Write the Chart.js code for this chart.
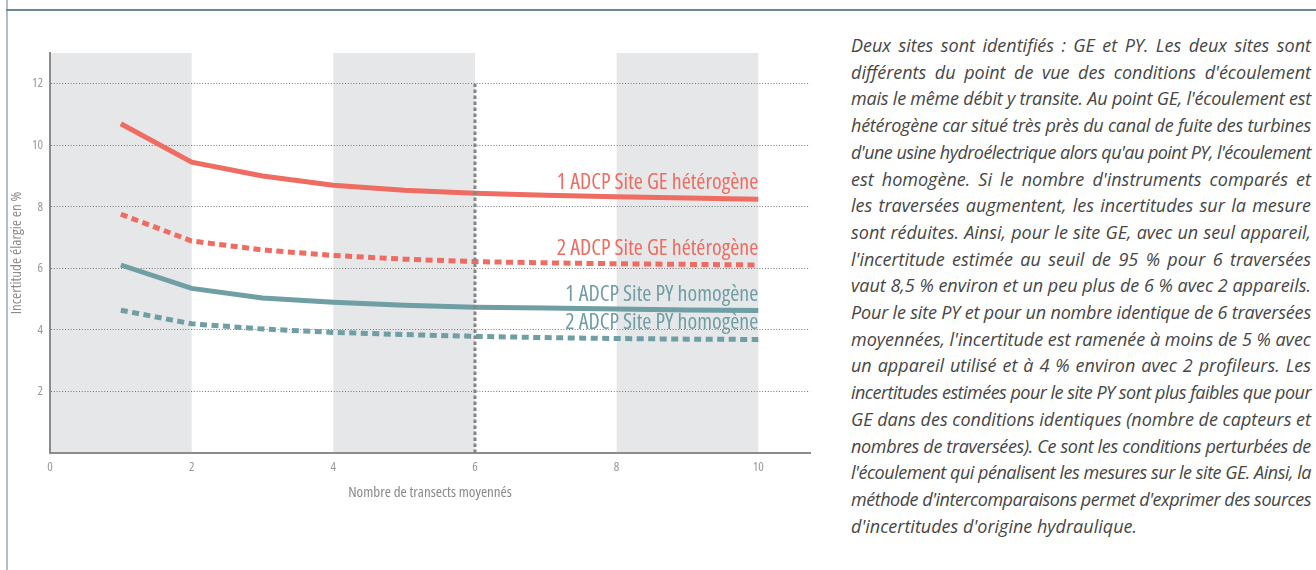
<!DOCTYPE html>
<html><head><meta charset="utf-8">
<script src="https://cdn.jsdelivr.net/npm/chart.js@4.4.1/dist/chart.umd.min.js"></script>
<style>
html,body{margin:0;padding:0;background:#fff;width:1316px;height:570px;overflow:hidden;position:relative;}
#frameV{position:absolute;left:6px;top:0;width:2px;height:570px;background:#aebfca;}
#frameH{position:absolute;left:6px;top:9px;width:1310px;height:2px;background:#6b8a98;}
#wrap{position:absolute;left:0;top:0;width:830px;height:570px;}
#txt{position:absolute;left:851px;top:0;width:460px;height:570px;font-family:'Open Sans',sans-serif;font-style:italic;font-size:18px;color:#464646;}
.ln{position:absolute;left:0;white-space:nowrap;line-height:20px;}
</style></head>
<body>
<div id="frameV"></div><div id="frameH"></div>
<div id="wrap"><canvas id="c" width="830" height="570"></canvas></div>
<div id="txt"></div>
<script>
const xValues = [1, 2, 3, 4, 5, 6, 7, 8, 9, 10];
const ge1 = [10.7, 9.45, 9.0, 8.7, 8.54, 8.44, 8.38, 8.33, 8.29, 8.25];
const ge2 = [7.76, 6.89, 6.6, 6.42, 6.3, 6.22, 6.18, 6.15, 6.13, 6.11];
const py1 = [6.11, 5.35, 5.04, 4.9, 4.8, 4.74, 4.71, 4.68, 4.65, 4.63];
const py2 = [4.64, 4.2, 4.03, 3.92, 3.85, 3.79, 3.75, 3.72, 3.7, 3.69];
const seriesLabels = ['1 ADCP Site GE hétérogène', '2 ADCP Site GE hétérogène', '1 ADCP Site PY homogène', '2 ADCP Site PY homogène'];
const xTicks = [0, 2, 4, 6, 8, 10];
const yTicks = [2, 4, 6, 8, 10, 12];
const bands = [[0, 2], [4, 6], [8, 10]];
const markerX = 6;
const markerTop = 12;
const xTitle = 'Nombre de transects moyennés';
const yTitle = 'Incertitude élargie en %';
const textLines = [
  "Deux sites sont identifiés : GE et PY. Les deux sites sont",
  "différents du point de vue des conditions d'écoulement",
  "mais le même débit y transite. Au point GE, l'écoulement est",
  "hétérogène car situé très près du canal de fuite des turbines",
  "d'une usine hydroélectrique alors qu'au point PY, l'écoulement",
  "est homogène. Si le nombre d'instruments comparés et",
  "les traversées augmentent, les incertitudes sur la mesure",
  "sont réduites. Ainsi, pour le site GE, avec un seul appareil,",
  "l'incertitude estimée au seuil de 95 % pour 6 traversées",
  "vaut 8,5 % environ et un peu plus de 6 % avec 2 appareils.",
  "Pour le site PY et pour un nombre identique de 6 traversées",
  "moyennées, l'incertitude est ramenée à moins de 5 % avec",
  "un appareil utilisé et à 4 % environ avec 2 profileurs. Les",
  "incertitudes estimées pour le site PY sont plus faibles que pour",
  "GE dans des conditions identiques (nombre de capteurs et",
  "nombres de traversées). Ce sont les conditions perturbées de",
  "l'écoulement qui pénalisent les mesures sur le site GE. Ainsi, la",
  "méthode d'intercomparaisons permet d'exprimer des sources",
  "d'incertitudes d'origine hydraulique."
];

const RED = '#ee6c61', TEAL = '#6f9ea4';
const COND = "'Open Sans', sans-serif";

// text block
(function(){
  const box = document.getElementById('txt');
  const W = 460, firstTop = 35, gap = 26.7;
  textLines.forEach((t, i) => {
    const d = document.createElement('div');
    d.className = 'ln';
    d.style.top = (firstTop + i * gap) + 'px';
    const s = document.createElement('span');
    s.textContent = t;
    d.appendChild(s);
    box.appendChild(d);
    if (i < textLines.length - 1) {
      let w = s.getBoundingClientRect().width;
      if (w > W) {
        s.style.letterSpacing = ((W - w) / t.length) + 'px';
        w = s.getBoundingClientRect().width;
      }
      const spaces = (t.match(/ /g) || []).length;
      if (spaces) s.style.wordSpacing = ((W - w) / spaces) + 'px';
    }
  });
})();

const mk = arr => xValues.map((x, i) => ({x: x, y: arr[i]}));
const seriesData = [ge1, ge2, py1, py2];
const seriesColors = [RED, RED, TEAL, TEAL];
const seriesDash = [[], [7, 4.5], [], [7, 4.5]];

const bandPlugin = {
  id: 'bands',
  beforeDraw(chart) {
    const {ctx, chartArea, scales: {x}} = chart;
    ctx.save();
    ctx.fillStyle = '#e6e7e9';
    bands.forEach(([a, b]) => {
      const x1 = x.getPixelForValue(a), x2 = x.getPixelForValue(b);
      ctx.fillRect(x1, chartArea.top, x2 - x1, chartArea.bottom - chartArea.top);
    });
    ctx.restore();
  }
};
const labelPlugin = {
  id: 'seriesLabels',
  beforeDatasetsDraw(chart) {
    const {ctx, scales: {x, y}} = chart;
    ctx.save();
    ctx.font = "condensed 22px 'Open Sans', sans-serif";
    ctx.textAlign = 'right';
    ctx.textBaseline = 'alphabetic';
    seriesData.forEach((arr, i) => {
      const last = arr.length - 1;
      ctx.fillStyle = seriesColors[i];
      ctx.fillText(seriesLabels[i], x.getPixelForValue(xValues[last]), y.getPixelForValue(arr[last]) - 10);
    });
    ctx.restore();
  }
};

const datasets = seriesData.map((arr, i) => ({
  label: seriesLabels[i],
  data: mk(arr),
  borderColor: seriesColors[i],
  borderWidth: 5,
  borderDash: seriesDash[i],
  borderCapStyle: 'butt',
  pointRadius: 0,
  tension: 0,
  fill: false,
  order: 1
}));
datasets.push({
  label: 'marker',
  data: [{x: markerX, y: 0}, {x: markerX, y: markerTop}],
  borderColor: '#858585',
  borderWidth: 3,
  borderDash: [3.5, 2.5],
  pointRadius: 0,
  fill: false,
  order: 0
});

new Chart(document.getElementById('c'), {
  type: 'line',
  data: {datasets},
  plugins: [bandPlugin, labelPlugin],
  options: {
    responsive: false,
    animation: false,
    layout: {padding: {left: 0, top: 53, right: 20, bottom: 0}},
    plugins: {legend: {display: false}, tooltip: {enabled: false}},
    scales: {
      x: {
        type: 'linear', min: 0, max: 10.73,
        afterBuildTicks: s => { s.ticks = xTicks.map(v => ({value: v})); },
        afterFit: s => { s.height = 117; },
        grid: {display: false, drawTicks: false},
        border: {display: true, color: '#8c8c8c', width: 2},
        ticks: {font: {family: COND, size: 13, weight: 'condensed'}, color: '#9a9a9a', padding: 6, maxRotation: 0},
        title: {display: true, text: xTitle, font: {family: COND, size: 15, weight: 'condensed'}, color: '#8a8a8a', padding: {top: 0, bottom: 68}}
      },
      y: {
        type: 'linear', min: 0, max: 13,
        afterBuildTicks: s => { s.ticks = yTicks.map(v => ({value: v})); },
        afterFit: s => { s.width = 50; },
        grid: {color: '#777777', lineWidth: 1, drawTicks: false},
        border: {display: true, color: '#8c8c8c', width: 2, dash: [1, 1.8]},
        ticks: {font: {family: COND, size: 13, weight: 'condensed'}, color: '#9a9a9a', padding: 7},
        title: {display: true, text: yTitle, font: {family: COND, size: 15, weight: 'condensed'}, color: '#8a8a8a', padding: {top: 8, bottom: 0}}
      }
    }
  }
});
</script>
</body></html>
